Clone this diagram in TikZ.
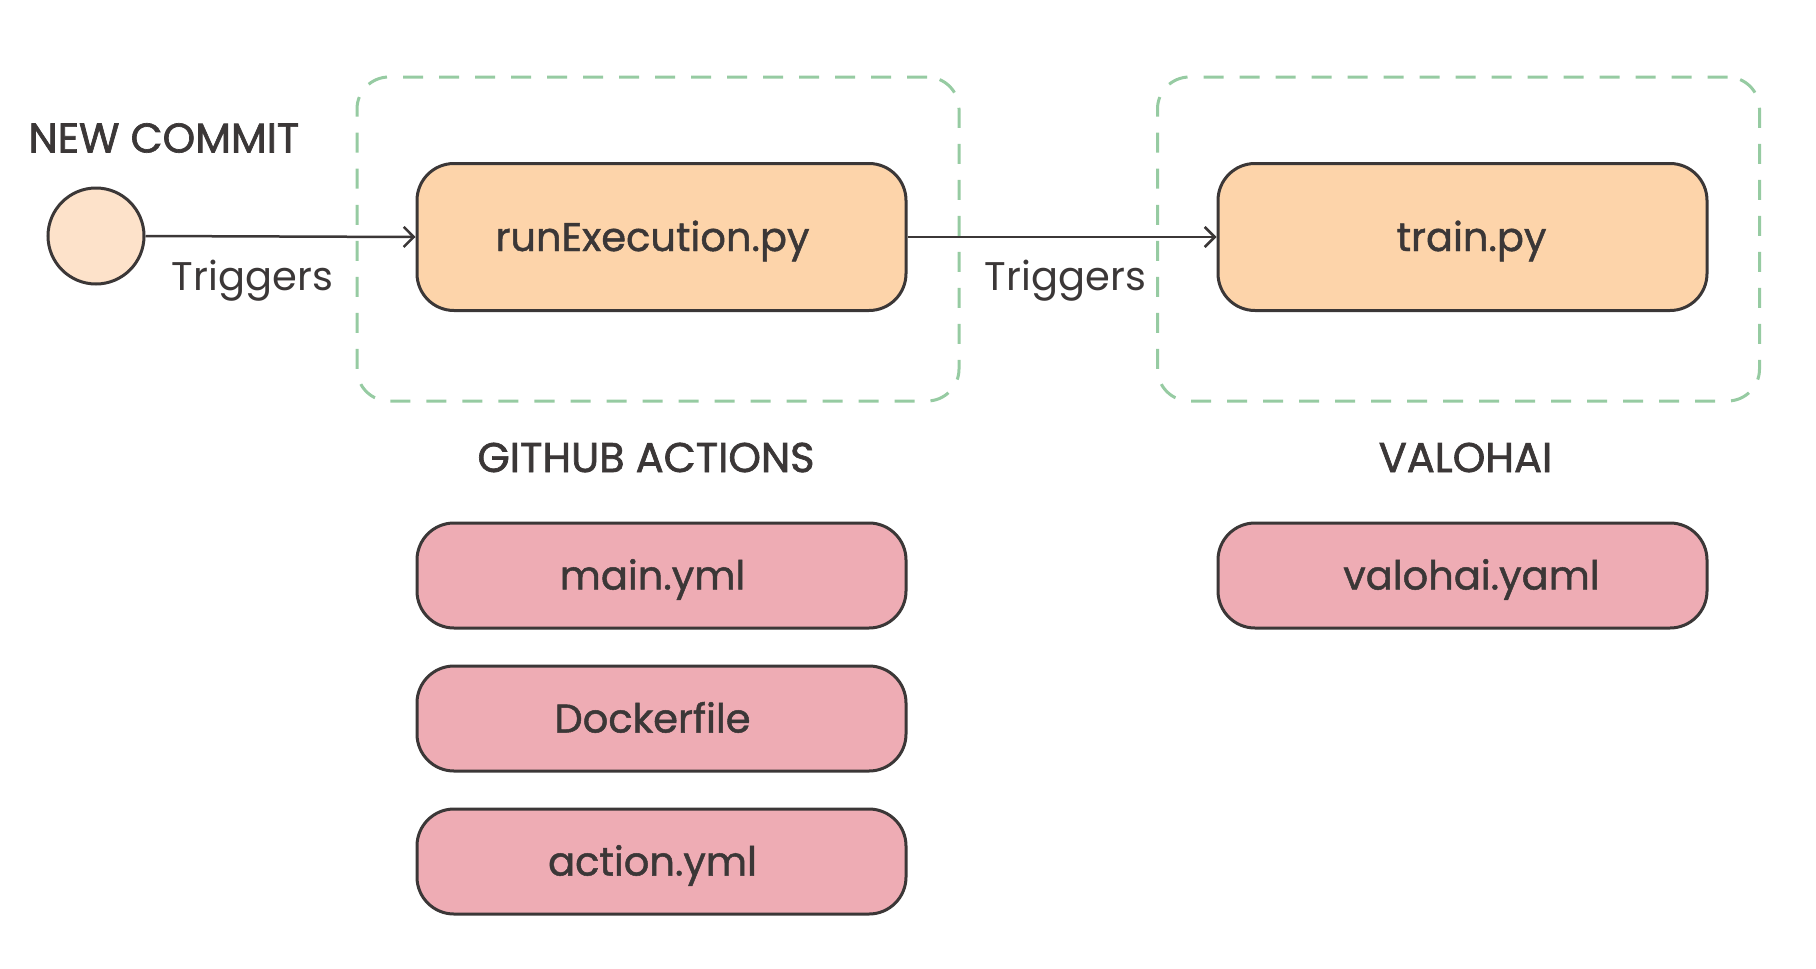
\documentclass[tikz,border=0pt]{standalone}
\usepackage{fontspec}
\setmainfont{Poppins}
\newfontfamily\medfont[FakeBold=1.2]{Poppins}
\newfontfamily\headfont[FakeBold=1.6]{Poppins}
\usetikzlibrary{positioning,arrows.meta}

\definecolor{ink}{HTML}{3B3737}
\definecolor{peach}{HTML}{FDD4AA}
\definecolor{lightpeach}{HTML}{FDE2CA}
\definecolor{rose}{HTML}{EEACB4}
\definecolor{mint}{HTML}{96CBA2}

\tikzset{
	filebox/.style={draw=ink,line width=3bp,rounded corners=37bp,minimum width=489bp,
		font=\fontsize{40bp}{46bp}\medfont,text=ink,text height=28bp,text depth=0bp},
	scriptbox/.style={filebox,fill=peach,minimum height=147bp},
	configbox/.style={filebox,fill=rose,minimum height=105bp},
	nudgeleft/.style={execute at begin node={\hspace*{-18bp}}},
	nudgeright/.style={execute at begin node={\hspace*{18bp}}},
	groupbox/.style={draw=mint,line width=3bp,dashed,dash pattern=on 20bp off 16bp,rounded corners=32bp},
	heading/.style={font=\fontsize{41.5bp}{46bp}\headfont,text=ink,text height=29bp,text depth=0bp},
	trig/.style={font=\fontsize{40bp}{46bp}\selectfont,text=ink,text height=28bp,text depth=0bp},
	flow/.style={draw=ink,line width=2.5bp,-{Straight Barb[length=10bp,width=20bp,line width=2.5bp]}}
}

\begin{document}
\begin{tikzpicture}[x=1bp,y=-1bp]
	\useasboundingbox (0,0) rectangle (1816,968);

	%GROUPS
	\node[groupbox,minimum width=602bp,minimum height=324bp] (gh) at (658,239) {};
	\node[groupbox,minimum width=602bp,minimum height=324bp] (vh) at (1458.5,239) {};
	\node[heading] (ghlabel) at (646,457.5) {GITHUB ACTIONS};
	\node[heading] (vhlabel) at (1465.5,457.5) {VALOHAI};

	%COMMIT
	\node[heading,anchor=west] (commitlabel) at (25,138) {NEW COMMIT};
	\node[circle,draw=ink,line width=3bp,fill=lightpeach,minimum size=96bp,inner sep=0pt] (commit) at (96,236) {};

	%SCRIPTS
	\node[scriptbox,nudgeleft] (run) at (661.5,237) {runExecution.py};
	\node[scriptbox,nudgeright] (train) at (1462.5,237) {train.py};

	%CONFIG FILES
	\node[configbox,nudgeleft] (mainyml) at (661.5,575.5) {main.yml};
	\node[configbox,nudgeleft,below=35bp of mainyml] (docker) {Dockerfile};
	\node[configbox,nudgeleft,below=35bp of docker] (actionyml) {action.yml};
	\node[configbox,nudgeright] (valohaiyaml) at (1462.5,575.5) {valohai.yaml};

	%TRIGGERS
	\draw[flow] (commit.east) -- (run.west);
	\draw[flow] (run.east) -- (train.west);
	\node[trig] (trig1) at (252.5,276) {Triggers};
	\node[trig] (trig2) at (1065.5,276) {Triggers};
\end{tikzpicture}
\end{document}
